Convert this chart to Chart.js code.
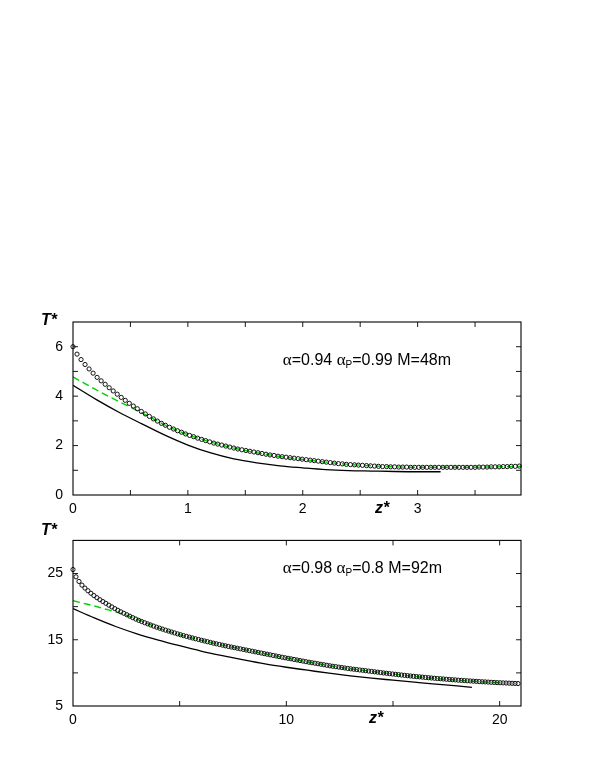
<!DOCTYPE html>
<html><head><meta charset="utf-8">
<script src="https://cdn.jsdelivr.net/npm/chart.js@4.4.1/dist/chart.umd.min.js"></script>
<style>
html,body{margin:0;padding:0;background:#fff;width:595px;height:770px;overflow:hidden}
canvas{position:absolute;left:0}
</style></head><body>
<canvas id="c1" width="595" height="222" style="top:300px;width:595px;height:222px"></canvas>
<canvas id="c2" width="595" height="218" style="top:522px;width:595px;height:218px"></canvas>
<script>
// ---------- Top panel data ----------
const topZ = [0,0.035,0.07,0.105,0.14,0.175,0.21,0.245,0.28,0.315,
0.35,0.385,0.42,0.455,0.49,0.525,0.56,0.595,0.63,0.665,
0.7,0.735,0.77,0.805,0.84,0.875,0.91,0.945,0.98,1.015,
1.05,1.085,1.12,1.155,1.19,1.225,1.26,1.295,1.33,1.365,
1.4,1.435,1.47,1.505,1.54,1.575,1.61,1.645,1.68,1.715,
1.75,1.785,1.82,1.855,1.89,1.925,1.96,1.995,2.03,2.065,
2.1,2.135,2.17,2.205,2.24,2.275,2.31,2.345,2.38,2.415,
2.45,2.485,2.52,2.555,2.59,2.625,2.66,2.695,2.73,2.765,
2.8,2.835,2.87,2.905,2.94,2.975,3.01,3.045,3.08,3.115,
3.15,3.185,3.22,3.255,3.29,3.325,3.36,3.395,3.43,3.465,
3.5,3.535,3.57,3.605,3.64,3.675,3.71,3.745,3.78,3.815,
3.85,3.885];
const topSim = [6.00,5.70,5.48,5.28,5.10,4.93,4.76,4.62,4.48,4.34,
4.21,4.08,3.95,3.83,3.71,3.60,3.49,3.38,3.28,3.18,
3.08,2.99,2.90,2.82,2.74,2.67,2.60,2.54,2.47,2.41,
2.36,2.30,2.25,2.20,2.15,2.10,2.06,2.02,1.98,1.94,
1.90,1.86,1.83,1.80,1.77,1.74,1.71,1.68,1.65,1.62,
1.60,1.57,1.55,1.53,1.51,1.49,1.47,1.45,1.43,1.41,
1.39,1.37,1.35,1.33,1.31,1.29,1.27,1.26,1.24,1.23,
1.22,1.21,1.20,1.19,1.18,1.17,1.16,1.15,1.15,1.14,
1.14,1.13,1.13,1.13,1.12,1.12,1.12,1.12,1.12,1.12,
1.12,1.12,1.12,1.12,1.12,1.12,1.12,1.12,1.12,1.12,
1.12,1.13,1.13,1.13,1.14,1.14,1.14,1.15,1.15,1.16,
1.16,1.17];
const topGreenZ = [0,0.1,0.2,0.3,0.4,0.5,0.6,0.7,0.8,0.9,1.0,1.2,1.4,1.6,1.8,2.0,2.2,2.4,2.6,2.8,3.0,3.2,3.4,3.6,3.9];
const topGreenT = [4.78,4.52,4.26,4.01,3.78,3.55,3.32,3.08,2.83,2.62,2.44,2.14,1.90,1.71,1.56,1.44,1.33,1.24,1.18,1.14,1.12,1.12,1.12,1.13,1.16];
const topBlackZ = [0,0.2,0.4,0.6,0.8,1.0,1.2,1.4,1.6,1.8,2.0,2.2,2.4,2.6,2.8,3.0,3.2];
const topBlackT = [4.44,3.87,3.35,2.88,2.42,2.02,1.70,1.46,1.30,1.18,1.10,1.03,0.99,0.97,0.95,0.94,0.94];
const topXTickLabels = ['0','1','2','3'];
const topYTickLabels = ['0','2','4','6'];
const topNote = {alpha:'0.94', alphaP:'0.99', M:'48m'};

// ---------- Bottom panel data ----------
const botZ = [0,0.14,0.28,0.42,0.56,0.7,0.84,0.98,1.12,1.26,
1.4,1.54,1.68,1.82,1.96,2.1,2.24,2.38,2.52,2.66,
2.8,2.94,3.08,3.22,3.36,3.5,3.64,3.78,3.92,4.06,
4.2,4.34,4.48,4.62,4.76,4.9,5.04,5.18,5.32,5.46,
5.6,5.74,5.88,6.02,6.16,6.3,6.44,6.58,6.72,6.86,
7,7.14,7.28,7.42,7.56,7.7,7.84,7.98,8.12,8.26,
8.4,8.54,8.68,8.82,8.96,9.1,9.24,9.38,9.52,9.66,
9.8,9.94,10.08,10.22,10.36,10.5,10.64,10.78,10.92,11.06,
11.2,11.34,11.48,11.62,11.76,11.9,12.04,12.18,12.32,12.46,
12.6,12.74,12.88,13.02,13.16,13.3,13.44,13.58,13.72,13.86,
14,14.14,14.28,14.42,14.56,14.7,14.84,14.98,15.12,15.26,
15.4,15.54,15.68,15.82,15.96,16.1,16.24,16.38,16.52,16.66,
16.8,16.94,17.08,17.22,17.36,17.5,17.64,17.78,17.92,18.06,
18.2,18.34,18.48,18.62,18.76,18.9,19.04,19.18,19.32,19.46,
19.6,19.74,19.88,20.02,20.16,20.3,20.44,20.58,20.72,20.86];
const botSim = [25.6,24.5,23.8,23.25,22.8,22.4,22.02,21.67,21.35,21.05,
20.77,20.5,20.22,19.96,19.7,19.45,19.22,19.0,18.78,18.56,
18.34,18.13,17.93,17.75,17.57,17.4,17.23,17.06,16.9,16.75,
16.6,16.45,16.31,16.17,16.03,15.89,15.76,15.63,15.51,15.39,
15.27,15.15,15.04,14.93,14.82,14.71,14.6,14.49,14.39,14.29,
14.19,14.09,13.99,13.9,13.81,13.72,13.63,13.54,13.45,13.36,
13.27,13.18,13.09,13.0,12.91,12.82,12.73,12.64,12.55,12.46,
12.37,12.28,12.2,12.12,12.03,11.95,11.86,11.78,11.69,11.61,
11.53,11.46,11.38,11.3,11.23,11.15,11.07,11.0,10.94,10.87,
10.81,10.74,10.67,10.61,10.55,10.5,10.44,10.39,10.33,10.27,
10.22,10.16,10.11,10.05,9.99,9.94,9.88,9.83,9.78,9.73,
9.68,9.63,9.58,9.53,9.48,9.44,9.4,9.36,9.31,9.27,
9.23,9.19,9.15,9.12,9.08,9.04,9.01,8.97,8.94,8.9,
8.87,8.84,8.81,8.78,8.75,8.72,8.69,8.66,8.64,8.61,
8.58,8.56,8.53,8.51,8.49,8.47,8.45,8.43,8.41,8.39];
const botGreenZ = [0,0.5,1,1.5,2,2.5,3,3.5,4,5,6,7,8,9,10,11,12,13,14,15,16,17,18,19,20];
const botGreenT = [20.9,20.5,20.1,19.65,19.2,18.7,18.1,17.45,16.8,15.76,14.93,14.19,13.53,12.88,12.25,11.65,11.1,10.62,10.22,9.83,9.47,9.15,8.9,8.69,8.51];
const botBlackZ = [0,1,2,3,4,5,6,7,8,9,10,11,12,13,14,15,16,17,18,18.7];
const botBlackT = [19.7,18.3,17.0,15.9,14.95,14.1,13.3,12.6,11.95,11.35,10.85,10.4,9.95,9.55,9.2,8.9,8.6,8.3,8.03,7.8];
const botXTickLabels = ['0','10','20'];
const botYTickLabels = ['5','15','25'];
const botNote = {alpha:'0.98', alphaP:'0.8', M:'92m'};

// ---------- drawing ----------
const SANS = '"Liberation Sans", Arial, sans-serif';
const SERIF = '"Liberation Serif", "Times New Roman", serif';
const pts = (xs, ys) => xs.map((v, i) => ({x: v, y: ys[i]}));

function decoPlugin(o) {
  return {
    id: 'deco',
    afterDraw(chart) {
      const {ctx, chartArea: a, scales: {x, y}} = chart;
      ctx.save();
      ctx.strokeStyle = '#000';
      ctx.lineWidth = 1.1;
      ctx.strokeRect(a.left, a.top, a.right - a.left, a.bottom - a.top);
      const L = 5;
      ctx.lineWidth = 0.9;
      ctx.beginPath();
      x.ticks.forEach(t => {
        const p = x.getPixelForValue(t.value);
        if (p <= a.left + 1 || p >= a.right - 1) return;
        ctx.moveTo(p, a.bottom); ctx.lineTo(p, a.bottom - L);
        ctx.moveTo(p, a.top); ctx.lineTo(p, a.top + L);
      });
      y.ticks.forEach(t => {
        const p = y.getPixelForValue(t.value);
        if (p <= a.top + 1 || p >= a.bottom - 1) return;
        ctx.moveTo(a.left, p); ctx.lineTo(a.left + L, p);
        ctx.moveTo(a.right, p); ctx.lineTo(a.right - L, p);
      });
      ctx.stroke();
      ctx.fillStyle = '#000';
      ctx.textBaseline = 'alphabetic';
      ctx.textAlign = 'left';
      ctx.font = 'bold italic 16px ' + SANS;
      ctx.fillText('T*', o.tX, o.tY);
      ctx.fillText('z*', o.zX, o.zY);
      // annotation
      const n = o.note;
      const parts = [
        {t: 'α', f: '17px ' + SERIF, dy: 0},
        {t: '=' + n.alpha + ' ', f: '16px ' + SANS, dy: 0},
        {t: 'α', f: '17px ' + SERIF, dy: 0},
        {t: 'P', f: '10px ' + SANS, dy: 3},
        {t: '=' + n.alphaP + ' M=' + n.M, f: '16px ' + SANS, dy: 0}
      ];
      let w = 0;
      parts.forEach(p => { ctx.font = p.f; w += ctx.measureText(p.t).width; });
      let cx = o.noteEnd - w;
      parts.forEach(p => { ctx.font = p.f; ctx.fillText(p.t, cx, o.noteY + p.dy); cx += ctx.measureText(p.t).width; });
      ctx.restore();
    }
  };
}

function makeChart(id, c) {
  return new Chart(document.getElementById(id), {
    type: 'scatter',
    data: {
      datasets: [
        {type: 'line', data: pts(c.bz, c.bt), borderColor: '#000', borderWidth: 1.3, pointRadius: 0, fill: false, cubicInterpolationMode: 'monotone', order: 3},
        {type: 'line', data: pts(c.gz, c.gt), borderColor: '#00d000', borderWidth: 1.4, borderDash: [7, 4], pointRadius: 0, fill: false, cubicInterpolationMode: 'monotone', order: 2},
        {type: 'scatter', data: pts(c.sz, c.st), showLine: false, pointStyle: 'circle', pointRadius: 2.1, borderWidth: 1, borderColor: '#111', backgroundColor: 'rgba(0,0,0,0)', clip: false, order: 1}
      ]
    },
    options: {
      responsive: false, animation: false, devicePixelRatio: 1,
      layout: {padding: c.pad},
      plugins: {legend: {display: false}, tooltip: {enabled: false}},
      scales: {
        x: {type: 'linear', min: c.xmin, max: c.xmax,
            afterFit(s) { s.height = c.xh; },
            grid: {display: false, drawTicks: false}, border: {display: false},
            ticks: {stepSize: c.xstep, includeBounds: false, autoSkip: false, maxRotation: 0, padding: 6, color: '#000',
                    font: {family: SANS, size: 14},
                    callback: v => { const s = String(v); return c.xLabels.includes(s) ? s : ''; }}},
        y: {type: 'linear', min: c.ymin, max: c.ymax,
            afterFit(s) { s.width = 73; },
            grid: {display: false, drawTicks: false}, border: {display: false},
            ticks: {stepSize: c.ystep, includeBounds: false, autoSkip: false, padding: 10, color: '#000',
                    font: {family: SANS, size: 14},
                    callback: v => { const s = String(v); return c.yLabels.includes(s) ? s : ''; }}}
      }
    },
    plugins: [decoPlugin(c.deco)]
  });
}

makeChart('c1', {
  sz: topZ, st: topSim, gz: topGreenZ, gt: topGreenT, bz: topBlackZ, bt: topBlackT,
  xmin: 0, xmax: 3.9, xstep: 0.5, ymin: 0, ymax: 7, ystep: 1,
  xLabels: topXTickLabels, yLabels: topYTickLabels,
  pad: {top: 22, right: 74, left: 0, bottom: 0}, xh: 27,
  deco: {tX: 41, tY: 25, zX: 375, zY: 213, note: topNote, noteEnd: 451, noteY: 65}
});
makeChart('c2', {
  sz: botZ, st: botSim, gz: botGreenZ, gt: botGreenT, bz: botBlackZ, bt: botBlackT,
  xmin: 0, xmax: 21, xstep: 5, ymin: 5, ymax: 30, ystep: 5,
  xLabels: botXTickLabels, yLabels: botYTickLabels,
  pad: {top: 11, right: 74, left: 0, bottom: 0}, xh: 34,
  deco: {tX: 41, tY: 13, zX: 369, zY: 201, note: botNote, noteEnd: 442, noteY: 51}
});
</script>
</body></html>
